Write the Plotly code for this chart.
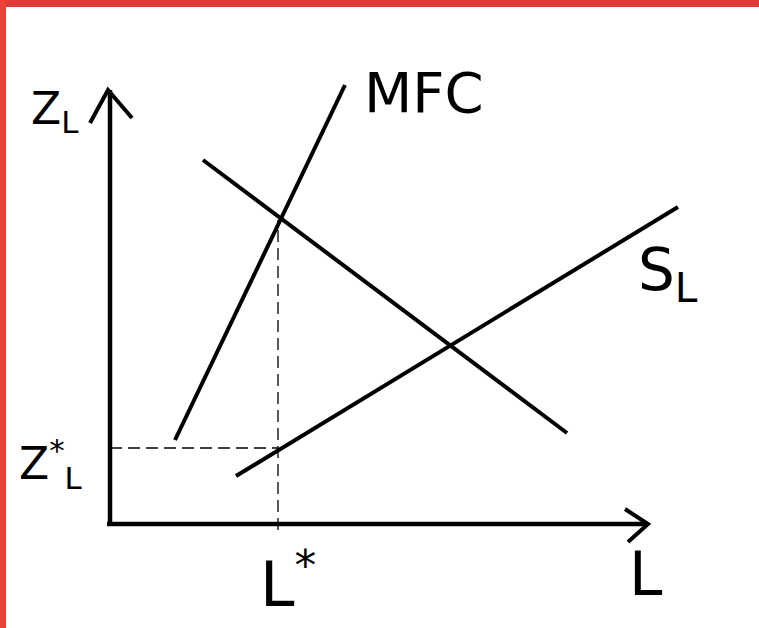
import plotly.graph_objects as go

# coordinates: origin at the corner of the axes, 1 unit ~ 1 px
mfc_x = [65, 235]
mfc_y = [84, 439]
demand_x = [93, 457]
demand_y = [364, 91]
supply_x = [126, 568]
supply_y = [48, 317]

l_star = 168
z_star = 76
mfc_at_star = 304

fig = go.Figure()

line_style = dict(color="black", width=4)

# axes
fig.add_trace(go.Scatter(x=[0, 0], y=[0, 434], mode="lines", line=dict(color="black", width=4.5)))
fig.add_trace(go.Scatter(x=[-20, -2, 22], y=[401, 434, 406], mode="lines", line=dict(color="black", width=4)))
fig.add_trace(go.Scatter(x=[-3, 538], y=[0, 0], mode="lines", line=dict(color="black", width=4.5)))
fig.add_trace(go.Scatter(x=[515, 538, 518], y=[15, 0, -18], mode="lines", line=dict(color="black", width=4)))

# curves
fig.add_trace(go.Scatter(x=mfc_x, y=mfc_y, mode="lines", line=line_style))
fig.add_trace(go.Scatter(x=demand_x, y=demand_y, mode="lines", line=line_style))
fig.add_trace(go.Scatter(x=supply_x, y=supply_y, mode="lines", line=line_style))

# dashed guides
dashed = dict(color="black", width=1.3, dash="12px,6px")
fig.add_trace(go.Scatter(x=[0, l_star], y=[z_star, z_star], mode="lines", line=dashed))
fig.add_trace(go.Scatter(x=[l_star, l_star], y=[-6, mfc_at_star], mode="lines", line=dashed))

font = dict(family="DejaVu Sans", color="black")
labels = [
    (314, 432, "MFC", 56),
    (558, 250, "S<sub>L</sub>", 58),
    (-56, 413, "Z<sub>L</sub>", 44),
    (-60, 60, "Z<sup>*</sup><sub>L</sub>", 44),
    (178, -56, "L<sup>*</sup>", 62),
    (536, -50, "L", 60),
]
for x, y, t, s in labels:
    fig.add_annotation(x=x, y=y, text=t, showarrow=False, font=dict(size=s, **font))

# red frame
fig.add_shape(type="rect", xref="paper", yref="paper", x0=0, x1=1, y0=1 - 7 / 628, y1=1,
              fillcolor="#E03B39", line_width=0, layer="above")
fig.add_shape(type="rect", xref="paper", yref="paper", x0=0, x1=6 / 759, y0=0, y1=1,
              fillcolor="#EC4336", line_width=0, layer="above")

fig.update_layout(
    width=759, height=628,
    margin=dict(l=0, r=0, t=0, b=0),
    plot_bgcolor="white", paper_bgcolor="white",
    showlegend=False,
    xaxis=dict(range=[-110, 649], visible=False, fixedrange=True),
    yaxis=dict(range=[-104, 524], visible=False, fixedrange=True),
)

fig.write_html("out.html", config={"displayModeBar": False},
               post_script="document.body.style.margin='0px';")
